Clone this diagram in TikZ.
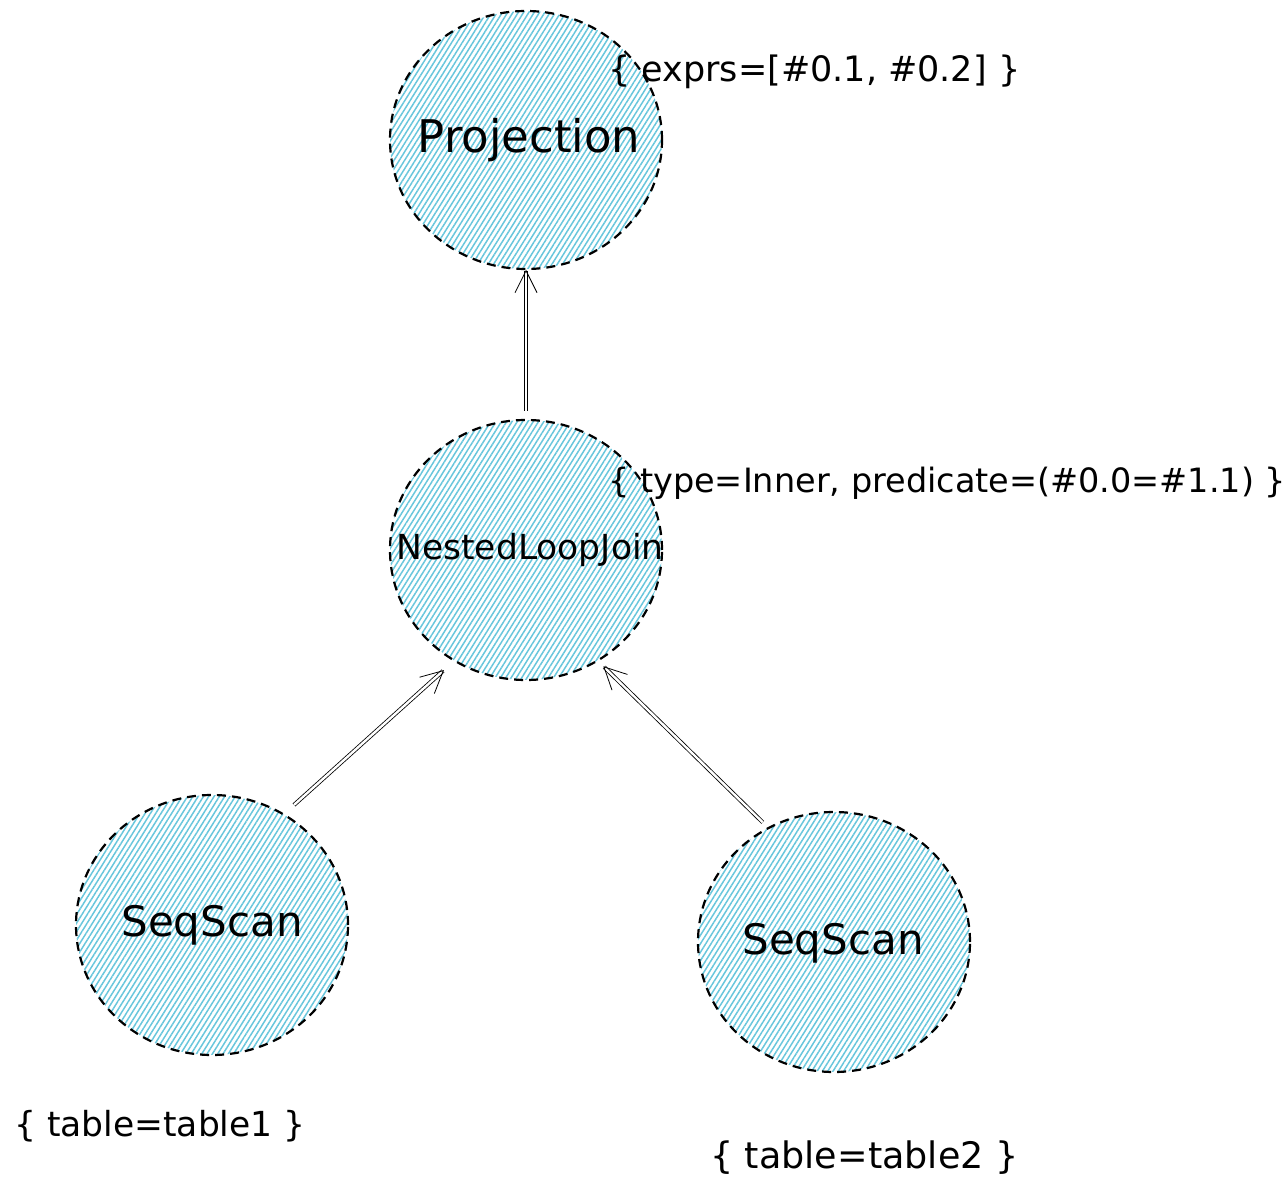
\documentclass[tikz,border=0pt]{standalone}
\usepackage{fontspec}
\setmainfont{DejaVu Sans}
\usetikzlibrary{shapes.geometric,patterns.meta,arrows.meta}
\definecolor{hatch}{RGB}{104,198,220}
\tikzset{
  opnode/.style={ellipse, minimum width=272pt, minimum height=258pt, inner sep=0pt,
    draw=black, line width=2.2pt, dash pattern=on 9pt off 6pt,
    pattern={Lines[angle=58,distance=4.5pt,line width=1.5pt]}, pattern color=hatch},
  optext/.style={inner sep=0pt, text=black},
  anno/.style={inner sep=0pt, anchor=west, text=black},
  flow/.style={draw=black, double=white, double distance=2.4pt, line width=0.8pt,
    -{Straight Barb[length=22pt,width=22pt]}}
}
\begin{document}
\begin{tikzpicture}[x=1pt,y=-1pt]
\useasboundingbox (0,0) rectangle (1286,1190);
\node[opnode] (proj) at (526,140) {};
\node[opnode, minimum height=260pt] (nlj) at (526,550) {};
\node[opnode, minimum height=260pt] (scanL) at (212,925) {};
\node[opnode, minimum height=260pt] (scanR) at (834,942) {};
\node[optext, font=\fontsize{45}{52}\selectfont] (tproj) at (529,140) {Projection};
\node[optext, font=\fontsize{34.5}{40}\selectfont] (tnlj) at (530,550) {NestedLoopJoin};
\node[optext, font=\fontsize{42}{48}\selectfont] (tscanL) at (212,925) {SeqScan};
\node[optext, font=\fontsize{42}{48}\selectfont] (tscanR) at (833,943) {SeqScan};
\node[anno, font=\fontsize{35}{40}\selectfont] (aproj) at (608,72) {\{ exprs=[\#0.1, \#0.2] \}};
\node[anno, font=\fontsize{33.5}{38}\selectfont] (anlj) at (608,483) {\{ type=Inner, predicate=(\#0.0=\#1.1) \}};
\node[anno, font=\fontsize{34.5}{40}\selectfont] (aL) at (14,1126) {\{ table=table1 \}};
\node[anno, font=\fontsize{36.5}{42}\selectfont] (aR) at (710,1158) {\{ table=table2 \}};
\draw[flow, shorten <=8pt] (nlj.north) -- (proj.south);
\draw[flow, shorten <=13pt, shorten >=13pt] (scanL.57) -- (nlj.237);
\draw[flow, shorten <=7pt, shorten >=7pt] (scanR.120) -- (nlj.303);
\end{tikzpicture}
\end{document}
